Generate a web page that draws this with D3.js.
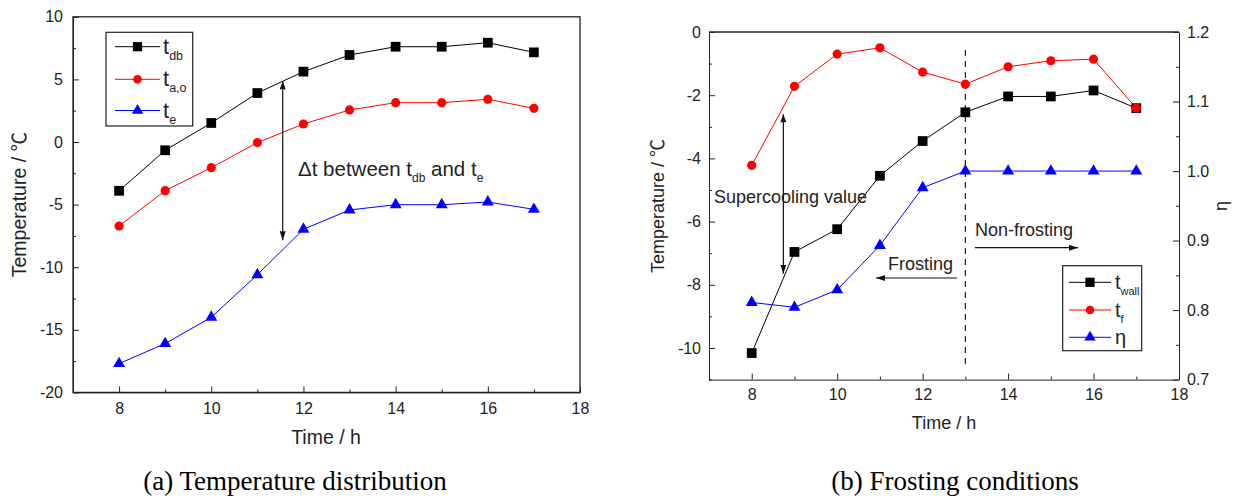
<!DOCTYPE html>
<html>
<head>
<meta charset="utf-8">
<script src="https://cdn.jsdelivr.net/npm/d3@7"></script>
<style>
  body { margin: 0; background: #fff; }
  svg { display: block; }
  .axis text { font-family: Arial, "Liberation Sans", sans-serif; fill: #222; }
  .axis path, .axis line { stroke: #222; }
</style>
</head>
<body>
<script>
// ---- data ----
const hours = [8, 9, 10, 11, 12, 13, 14, 15, 16, 17];

// (a) temperature distribution
const tDb = [-3.9, -0.66, 1.52, 3.91, 5.62, 6.95, 7.61, 7.61, 7.93, 7.16];
const tAo = [-6.71, -3.89, -2.05, -0.05, 1.44, 2.56, 3.14, 3.14, 3.41, 2.69];
const tE  = [-17.7, -16.1, -14.0, -10.6, -6.97, -5.43, -5.01, -5.01, -4.79, -5.38];

// (b) frosting conditions
const tWall = [-10.16, -6.96, -6.24, -4.55, -3.45, -2.54, -2.04, -2.04, -1.85, -2.41];
const tF    = [-4.22, -1.72, -0.70, -0.50, -1.27, -1.65, -1.10, -0.91, -0.86, -2.41];
const eta   = [0.811, 0.804, 0.829, 0.893, 0.976, 1.0, 1.0, 1.0, 1.0, 1.0];

const xTicks = [8, 10, 12, 14, 16, 18];
const xMinor = [9, 11, 13, 15, 17];
const yTicksA = [-20, -15, -10, -5, 0, 5, 10];
const yMinorA = [-17.5, -12.5, -7.5, -2.5, 2.5, 7.5];
const yTicksB = [-10, -8, -6, -4, -2, 0];
const yMinorB = [-11, -9, -7, -5, -3, -1];
const etaTicks = [0.7, 0.8, 0.9, 1.0, 1.1, 1.2];
const etaMinor = [0.75, 0.85, 0.95, 1.05, 1.15];

const width = 1240, height = 503;
const sans = 'Arial, "Liberation Sans", sans-serif';
const serif = '"Times New Roman", "Liberation Serif", serif';
const plain = function (d) { return String(d); };   // hyphen minus like the original

let svg = d3.select('body')
  .append('svg')
    .attr('width', width)
    .attr('height', height);

// arrow heads
let defs = svg.append('defs');
['end', 'start'].forEach(function (k) {
  defs.append('marker')
      .attr('id', 'arr-' + k)
      .attr('markerUnits', 'userSpaceOnUse')
      .attr('markerWidth', 10)
      .attr('markerHeight', 8)
      .attr('refX', k === 'end' ? 9 : 1)
      .attr('refY', 3)
      .attr('orient', 'auto')
    .append('path')
      .attr('d', k === 'end' ? 'M0,0 L9,3 L0,6 Z' : 'M9,0 L1,3 L9,6 Z')
      .attr('fill', '#111');
});

function symbolPath(type, size) {
  return d3.symbol().type(type).size(size)();
}

let markers = {
  square  : { type: d3.symbolSquare,   size: 95 },
  circle  : { type: d3.symbolCircle,   size: 66 },
  triangle: { type: d3.symbolTriangle, size: 62 }
};

function drawSeries(g, x, y, values, color, mk) {
  let pts = hours.map(function (h, i) { return [h, values[i]]; });
  let line = d3.line()
      .x(function (d) { return x(d[0]); })
      .y(function (d) { return y(d[1]); });
  g.append('path')
      .attr('d', line(pts))
      .attr('fill', 'none')
      .attr('stroke', color)
      .attr('stroke-width', 1);
  g.selectAll(null)
    .data(pts)
    .enter()
    .append('path')
      .attr('d', symbolPath(markers[mk].type, markers[mk].size))
      .attr('transform', function (d) { return 'translate(' + x(d[0]) + ',' + y(d[1]) + ')'; })
      .attr('fill', color);
}

function subText(g, px, py, main, sub, size, subSize, subDy) {
  let t = g.append('text')
      .attr('x', px)
      .attr('y', py)
      .attr('font-family', sans)
      .attr('font-size', size)
      .attr('fill', '#222');
  t.append('tspan').text(main);
  if (sub) t.append('tspan').attr('font-size', subSize).attr('dy', subDy).text(sub);
  return t;
}

function tempLabel(g, tx, ty, fs) {
  let t = g.append('text')
      .attr('transform', 'translate(' + tx + ',' + ty + ') rotate(-90)')
      .attr('text-anchor', 'middle')
      .attr('font-family', sans).attr('font-size', fs).attr('fill', '#222');
  t.append('tspan').text('Temperature / ');
  t.append('tspan').attr('font-family', '"Noto Sans CJK SC", sans-serif').text('\u2103');
}

function xAxes(g, x, yPos, pad, fs) {
  g.append('g')
      .attr('class', 'axis')
      .attr('transform', 'translate(0,' + yPos + ')')
      .call(d3.axisBottom(x).tickValues(xTicks).tickSizeInner(-6).tickSizeOuter(0).tickPadding(pad).tickFormat(plain))
      .call(function (a) { a.selectAll('text').attr('font-size', fs); });
  g.append('g')
      .attr('class', 'axis')
      .attr('transform', 'translate(0,' + yPos + ')')
      .call(d3.axisBottom(x).tickValues(xMinor).tickSizeInner(-3).tickSizeOuter(0).tickFormat(''))
      .call(function (a) { a.select('.domain').remove(); });
}

function legend(g, x0, y0, w, h, rows, lineX0, lineX1, textX, fs, subFs) {
  g.append('rect')
      .attr('x', x0).attr('y', y0)
      .attr('width', w).attr('height', h)
      .attr('fill', 'none')
      .attr('stroke', '#222')
      .attr('stroke-width', 1.2);
  rows.forEach(function (r) {
    g.append('line')
        .attr('x1', lineX0).attr('x2', lineX1)
        .attr('y1', r.y).attr('y2', r.y)
        .attr('stroke', r.color);
    g.append('path')
        .attr('d', symbolPath(markers[r.mk].type, markers[r.mk].size * 0.9))
        .attr('transform', 'translate(' + ((lineX0 + lineX1) / 2) + ',' + r.y + ')')
        .attr('fill', r.color);
    subText(g, textX, r.y + 7, r.main, r.sub, fs, subFs, 6);
  });
}

// ================= panel (a) =================
(function () {
  let x = d3.scaleLinear().domain([7, 18]).range([73, 580]);
  let y = d3.scaleLinear().domain([-20, 10]).range([392.4, 16.8]);
  let g = svg.append('g');

  g.append('rect')
      .attr('x', 73).attr('y', 16.8)
      .attr('width', 507).attr('height', 375.6)
      .attr('fill', 'none')
      .attr('stroke', '#222')
      .attr('stroke-width', 1.3);

  xAxes(g, x, 392.4, 10, 16);

  g.append('g')
      .attr('class', 'axis')
      .attr('transform', 'translate(73,0)')
      .call(d3.axisLeft(y).tickValues(yTicksA).tickSizeInner(-6).tickSizeOuter(0).tickPadding(10).tickFormat(plain))
      .call(function (a) { a.selectAll('text').attr('font-size', 16); });
  g.append('g')
      .attr('class', 'axis')
      .attr('transform', 'translate(73,0)')
      .call(d3.axisLeft(y).tickValues(yMinorA).tickSizeInner(-3).tickSizeOuter(0).tickFormat(''))
      .call(function (a) { a.select('.domain').remove(); });

  drawSeries(g, x, y, tDb, '#000', 'square');
  drawSeries(g, x, y, tAo, '#ff0000', 'circle');
  drawSeries(g, x, y, tE, '#0000ff', 'triangle');

  // delta-t arrow
  g.append('line')
      .attr('x1', x(11.55)).attr('x2', x(11.55))
      .attr('y1', y(4.85)).attr('y2', y(-7.85))
      .attr('stroke', '#111')
      .attr('stroke-width', 1.2)
      .attr('marker-start', 'url(#arr-start)')
      .attr('marker-end', 'url(#arr-end)');

  let t = g.append('text')
      .attr('x', 298).attr('y', 176)
      .attr('font-family', sans).attr('font-size', 20.5).attr('fill', '#222');
  t.append('tspan').text('\u0394t between t');
  t.append('tspan').attr('font-size', 12).attr('dy', 6).text('db');
  t.append('tspan').attr('dy', -6).text(' and t');
  t.append('tspan').attr('font-size', 12).attr('dy', 6).text('e');

  legend(g, 106, 32.3, 86.7, 93.7, [
    { y: 46.7,  color: '#000',    mk: 'square',   main: 't', sub: 'db' },
    { y: 79.3,  color: '#ff0000', mk: 'circle',   main: 't', sub: 'a,o' },
    { y: 110.5, color: '#0000ff', mk: 'triangle', main: 't', sub: 'e' }
  ], 115, 160, 163, 22, 12.5);

  tempLabel(g, 26, 204.6, 19.5);
  g.append('text')
      .attr('x', 326).attr('y', 443.5)
      .attr('text-anchor', 'middle')
      .attr('font-family', sans).attr('font-size', 19.5).attr('fill', '#222')
      .text('Time / h');
  g.append('text')
      .attr('x', 295).attr('y', 490)
      .attr('text-anchor', 'middle')
      .attr('font-family', serif).attr('font-size', 27).attr('fill', '#000')
      .text('(a) Temperature distribution');
})();

// ================= panel (b) =================
(function () {
  let x = d3.scaleLinear().domain([7, 18]).range([709, 1179]);
  let y = d3.scaleLinear().domain([-11, 0]).range([379.6, 32]);
  let yEta = d3.scaleLinear().domain([0.7, 1.2]).range([379.6, 32]);
  let g = svg.append('g');

  g.append('line')
      .attr('x1', 709).attr('x2', 1179)
      .attr('y1', 32).attr('y2', 32)
      .attr('stroke', '#222').attr('stroke-width', 1.3);

  xAxes(g, x, 379.6, 9, 16);

  g.append('g')
      .attr('class', 'axis')
      .attr('transform', 'translate(709,0)')
      .call(d3.axisLeft(y).tickValues(yTicksB).tickSizeInner(-6).tickSizeOuter(0).tickPadding(8).tickFormat(plain))
      .call(function (a) { a.selectAll('text').attr('font-size', 16); });
  g.append('g')
      .attr('class', 'axis')
      .attr('transform', 'translate(709,0)')
      .call(d3.axisLeft(y).tickValues(yMinorB).tickSizeInner(-3).tickSizeOuter(0).tickFormat(''))
      .call(function (a) { a.select('.domain').remove(); });

  g.append('g')
      .attr('class', 'axis')
      .attr('transform', 'translate(1179,0)')
      .call(d3.axisRight(yEta).tickValues(etaTicks).tickSizeInner(-6).tickSizeOuter(0).tickPadding(8)
        .tickFormat(d3.format('.1f')))
      .call(function (a) { a.selectAll('text').attr('font-size', 16); });
  g.append('g')
      .attr('class', 'axis')
      .attr('transform', 'translate(1179,0)')
      .call(d3.axisRight(yEta).tickValues(etaMinor).tickSizeInner(-3).tickSizeOuter(0).tickFormat(''))
      .call(function (a) { a.select('.domain').remove(); });

  // frosting boundary
  g.append('line')
      .attr('x1', x(13)).attr('x2', x(13))
      .attr('y1', 50).attr('y2', 365)
      .attr('stroke', '#222')
      .attr('stroke-width', 1.2)
      .attr('stroke-dasharray', '6,5');

  drawSeries(g, x, y, tWall, '#000', 'square');
  drawSeries(g, x, y, tF, '#ff0000', 'circle');
  drawSeries(g, x, yEta, eta, '#0000ff', 'triangle');

  // supercooling arrow
  g.append('line')
      .attr('x1', x(8.74)).attr('x2', x(8.74))
      .attr('y1', y(-2.6)).attr('y2', y(-7.65))
      .attr('stroke', '#111')
      .attr('stroke-width', 1.2)
      .attr('marker-start', 'url(#arr-start)')
      .attr('marker-end', 'url(#arr-end)');
  g.append('text')
      .attr('x', 714).attr('y', 203)
      .attr('font-family', sans).attr('font-size', 18).attr('fill', '#222')
      .text('Supercooling value');

  g.append('text')
      .attr('x', 888).attr('y', 270)
      .attr('font-family', sans).attr('font-size', 18).attr('fill', '#222')
      .text('Frosting');
  g.append('line')
      .attr('x1', 957).attr('x2', 876)
      .attr('y1', 278).attr('y2', 278)
      .attr('stroke', '#111').attr('stroke-width', 1.2)
      .attr('marker-end', 'url(#arr-end)');

  g.append('text')
      .attr('x', 975).attr('y', 236)
      .attr('font-family', sans).attr('font-size', 18).attr('fill', '#222')
      .text('Non-frosting');
  g.append('line')
      .attr('x1', 975).attr('x2', 1078)
      .attr('y1', 247.7).attr('y2', 247.7)
      .attr('stroke', '#111').attr('stroke-width', 1.2)
      .attr('marker-end', 'url(#arr-end)');

  legend(g, 1062.7, 265.7, 79, 85, [
    { y: 282.3, color: '#000',    mk: 'square',   main: 't', sub: 'wall' },
    { y: 310,   color: '#ff0000', mk: 'circle',   main: 't', sub: 'f' },
    { y: 337.3, color: '#0000ff', mk: 'triangle', main: '\u03b7', sub: '' }
  ], 1069, 1111, 1115, 20, 11);

  tempLabel(g, 664, 206, 18);
  g.append('text')
      .attr('transform', 'translate(1227,206) rotate(-90)')
      .attr('text-anchor', 'middle')
      .attr('font-family', sans).attr('font-size', 18).attr('fill', '#222')
      .text('\u03b7');
  g.append('text')
      .attr('x', 944).attr('y', 428.5)
      .attr('text-anchor', 'middle')
      .attr('font-family', sans).attr('font-size', 18).attr('fill', '#222')
      .text('Time / h');
  g.append('text')
      .attr('x', 955).attr('y', 490)
      .attr('text-anchor', 'middle')
      .attr('font-family', serif).attr('font-size', 27).attr('fill', '#000')
      .text('(b) Frosting conditions');
})();
</script>
</body>
</html>
